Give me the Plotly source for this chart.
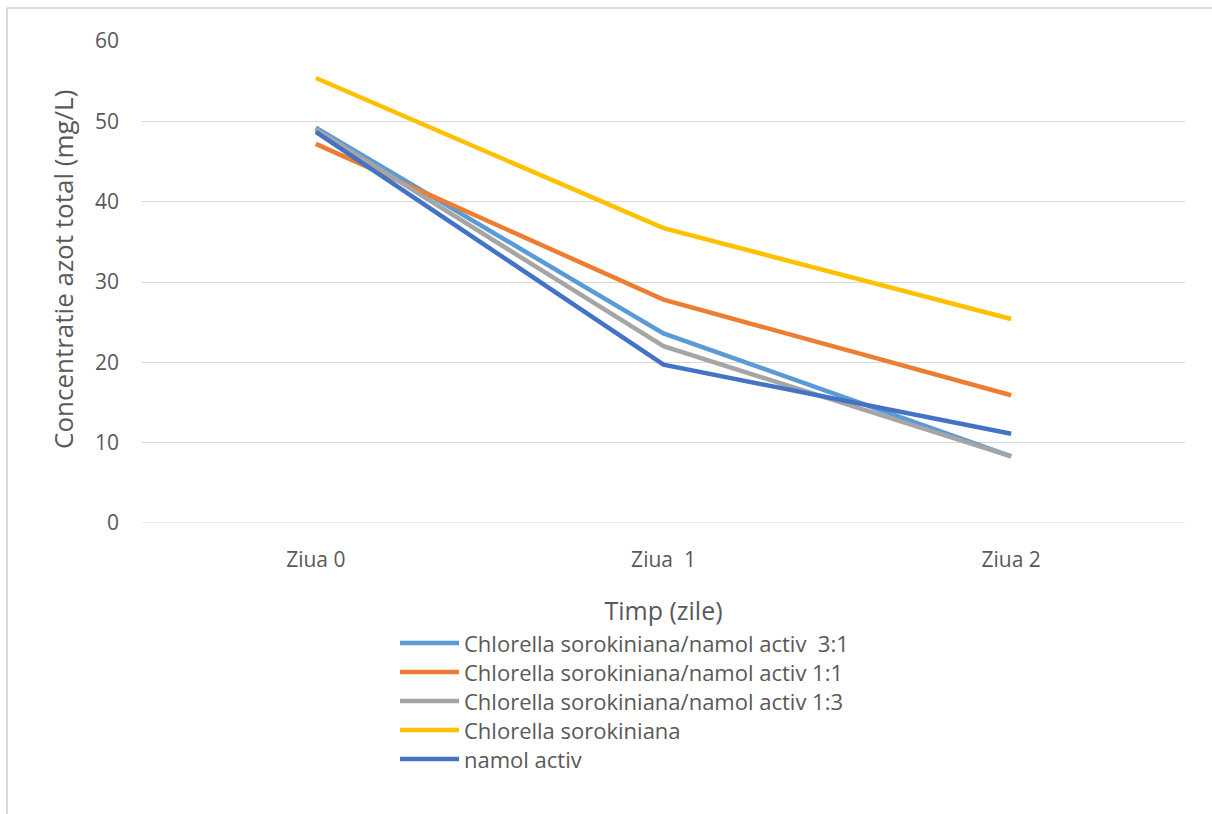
import plotly.graph_objects as go

# Sampling days
zile = ["Ziua 0", "Ziua  1", "Ziua 2"]

# Total nitrogen concentration (mg/L) per culture
cs_na_3_1 = [49.2, 23.6, 8.3]
cs_na_1_1 = [47.2, 27.8, 15.9]
cs_na_1_3 = [49.0, 22.0, 8.3]
chlorella = [55.4, 36.7, 25.4]
namol = [48.7, 19.7, 11.1]

serii = [
    ("Chlorella sorokiniana/namol activ  3:1", cs_na_3_1, "#5B9BD5"),
    ("Chlorella sorokiniana/namol activ 1:1", cs_na_1_1, "#ED7D31"),
    ("Chlorella sorokiniana/namol activ 1:3", cs_na_1_3, "#A5A5A5"),
    ("Chlorella sorokiniana", chlorella, "#FFC000"),
    ("namol activ", namol, "#4472C4"),
]

FONT = "Open Sans, Liberation Sans, sans-serif"
TXT = "#595959"

# Plot-area geometry in pixels (used to place the frame and legend)
W, H = 1212, 814
L, R, T, B = 142, 27, 41, 291
PW, PH = W - L - R, H - T - B


def px_x(x):
    return (x - L) / PW


def px_y(y):
    return (H - B - y) / PH


fig = go.Figure()
for nume, valori, culoare in serii:
    fig.add_trace(go.Scatter(
        x=zile, y=valori, name=nume, mode="lines",
        line=dict(color=culoare, width=4.5), showlegend=False,
    ))

# Legend drawn as line samples plus labels, stacked under the axis title
rand0, pas = 643, 29
for i, (nume, _, culoare) in enumerate(serii):
    yy = px_y(rand0 + i * pas)
    fig.add_shape(type="line", xref="paper", yref="paper",
                  x0=px_x(400), x1=px_x(459), y0=yy, y1=yy,
                  line=dict(color=culoare, width=4.5))
    fig.add_annotation(xref="paper", yref="paper", x=px_x(463), y=yy,
                       xanchor="left", yanchor="middle", showarrow=False,
                       borderpad=0, text=nume,
                       font=dict(family=FONT, size=22, color=TXT))

# Vertical axis title
fig.add_annotation(xref="paper", yref="paper", x=px_x(63), y=px_y(270),
                   xanchor="center", yanchor="middle", showarrow=False,
                   textangle=-90, text="Concentratie azot total (mg/L)",
                   font=dict(family=FONT, size=26, color=TXT))

# Chart-area frame
fig.add_shape(type="line", xref="paper", yref="paper",
              x0=px_x(7), x1=1.2, y0=px_y(8), y1=px_y(8),
              line=dict(color="#d9d9d9", width=2))
fig.add_shape(type="line", xref="paper", yref="paper",
              x0=px_x(7), x1=px_x(7), y0=px_y(8), y1=-0.7,
              line=dict(color="#d9d9d9", width=2))

fig.update_layout(
    width=W, height=H,
    margin=dict(l=L, r=R, t=T, b=B),
    paper_bgcolor="white", plot_bgcolor="white",
    font=dict(family=FONT, color=TXT, size=20),
    showlegend=False,
    xaxis=dict(
        type="category", range=[-0.5, 2.5],
        showgrid=False, showline=False, zeroline=False,
        ticks="", tickfont=dict(family=FONT, size=21, color=TXT),
        ticklabelstandoff=22,
        title=dict(text="Timp (zile)", font=dict(family=FONT, size=25, color=TXT), standoff=30),
    ),
    yaxis=dict(
        range=[0, 60], dtick=10,
        showgrid=True, gridcolor="#d9d9d9", gridwidth=1,
        zeroline=False, showline=False, ticks="",
        tickfont=dict(family=FONT, size=21, color=TXT), ticklabelstandoff=22,
    ),
)

# Bottom gridline at 0
fig.add_shape(type="line", xref="paper", yref="y", x0=0, x1=1, y0=0, y1=0,
              line=dict(color="#d9d9d9", width=1), layer="below")

fig.write_html("out.html")
